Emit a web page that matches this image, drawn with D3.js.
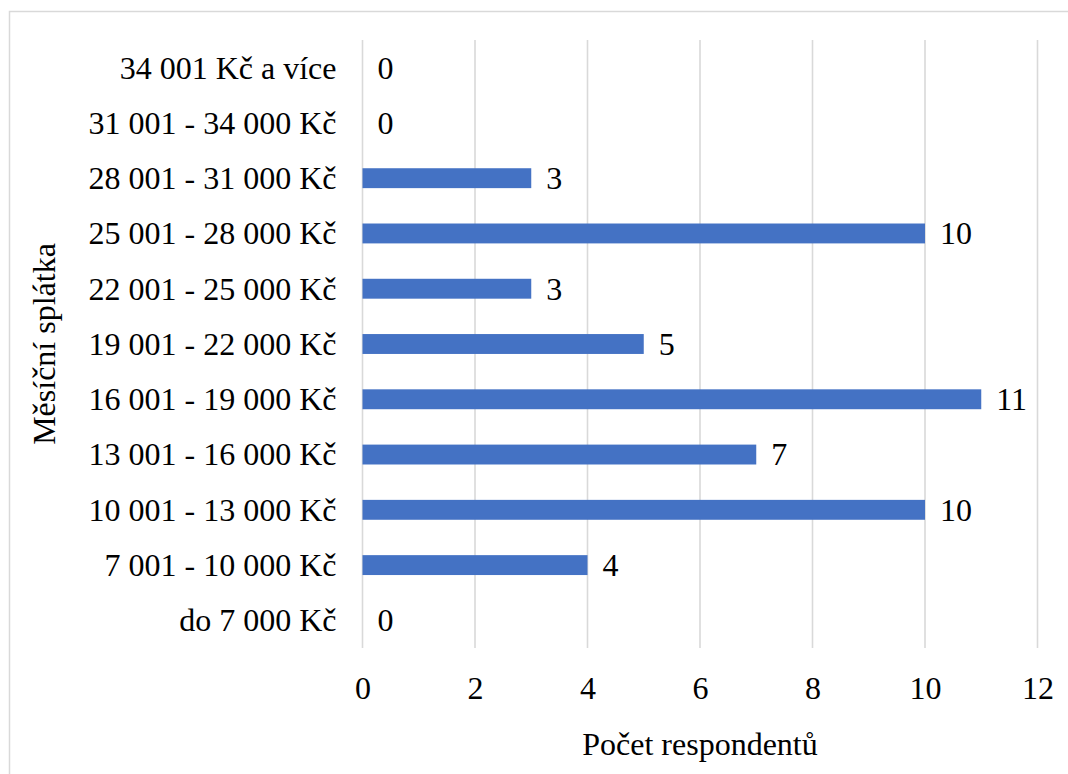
<!DOCTYPE html>
<html><head><meta charset="utf-8">
<script src="https://cdn.jsdelivr.net/npm/d3@7"></script>
</head>
<body style="margin:0">
<svg id="chart" width="1068" height="774"></svg>
<script>
// Monthly instalment brackets (bottom to top as listed) and respondent counts
const categories = [
  "do 7 000 Kč",
  "7 001 - 10 000 Kč",
  "10 001 - 13 000 Kč",
  "13 001 - 16 000 Kč",
  "16 001 - 19 000 Kč",
  "19 001 - 22 000 Kč",
  "22 001 - 25 000 Kč",
  "25 001 - 28 000 Kč",
  "28 001 - 31 000 Kč",
  "31 001 - 34 000 Kč",
  "34 001 Kč a více"
];
const counts = [0, 4, 10, 7, 11, 5, 3, 10, 3, 0, 0];
const xTicks = [0, 2, 4, 6, 8, 10, 12];
const xTitle = "Počet respondentů";
const yTitle = "Měsíční splátka";

const FONT = "Liberation Serif";
const svg = d3.select("#chart");
const W = 1068, H = 774;
const plot = { left: 362.5, right: 1037.5, top: 40, bottom: 648 };
const fontSize = 32;

// Outer chart frame
svg.append("rect")
  .attr("x", 9.5).attr("y", 11.5)
  .attr("width", W + 20).attr("height", H + 20)
  .attr("fill", "none").attr("stroke", "#d9d9d9").attr("stroke-width", 1.5);

const x = d3.scaleLinear().domain([0, 12]).range([plot.left, plot.right]);
const y = d3.scaleBand()
  .domain(categories.slice().reverse())
  .range([plot.top, plot.bottom])
  .paddingInner(0.64).paddingOuter(0.32);

// Vertical gridlines
svg.append("g").selectAll("line")
  .data(xTicks)
  .join("line")
  .attr("x1", d => x(d)).attr("x2", d => x(d))
  .attr("y1", plot.top).attr("y2", plot.bottom)
  .attr("stroke", "#d9d9d9").attr("stroke-width", 1.6);

// Text helper: every label uses the same serif face and size
const label = sel => sel
  .attr("font-family", FONT)
  .attr("font-size", fontSize)
  .attr("fill", "#000");

// X axis tick labels
const gx = svg.append("g")
  .attr("transform", `translate(0,${plot.bottom})`)
  .call(d3.axisBottom(x).tickValues(xTicks).tickSize(0).tickPadding(0));
gx.attr("font-family", null).attr("font-size", null);
gx.select(".domain").remove();
gx.selectAll("text").call(label).attr("y", 51).attr("dy", null);

// Y axis category labels
const gy = svg.append("g")
  .attr("transform", `translate(${plot.left - 26},0)`)
  .call(d3.axisLeft(y).tickSize(0).tickPadding(0));
gy.attr("font-family", null).attr("font-size", null);
gy.select(".domain").remove();
gy.selectAll("text").call(label).attr("dy", "0.34em");

// Bars
const data = categories.map((c, i) => ({ c, v: counts[i] }));
svg.append("g").selectAll("rect")
  .data(data)
  .join("rect")
  .attr("x", x(0))
  .attr("y", d => y(d.c))
  .attr("width", d => x(d.v) - x(0))
  .attr("height", y.bandwidth())
  .attr("fill", "#4472c4");

// Value labels
svg.append("g").selectAll("text")
  .data(data)
  .join("text")
  .call(label)
  .attr("x", d => x(d.v) + 15)
  .attr("y", d => y(d.c) + y.bandwidth() / 2)
  .attr("dy", "0.34em")
  .text(d => d.v);

// Axis titles
svg.append("text")
  .call(label)
  .attr("x", (plot.left + plot.right) / 2)
  .attr("y", 755)
  .attr("text-anchor", "middle")
  .text(xTitle);

svg.append("text")
  .call(label)
  .attr("transform", `translate(55,${(plot.top + plot.bottom) / 2}) rotate(-90)`)
  .attr("text-anchor", "middle")
  .text(yTitle);
</script>
</body></html>
